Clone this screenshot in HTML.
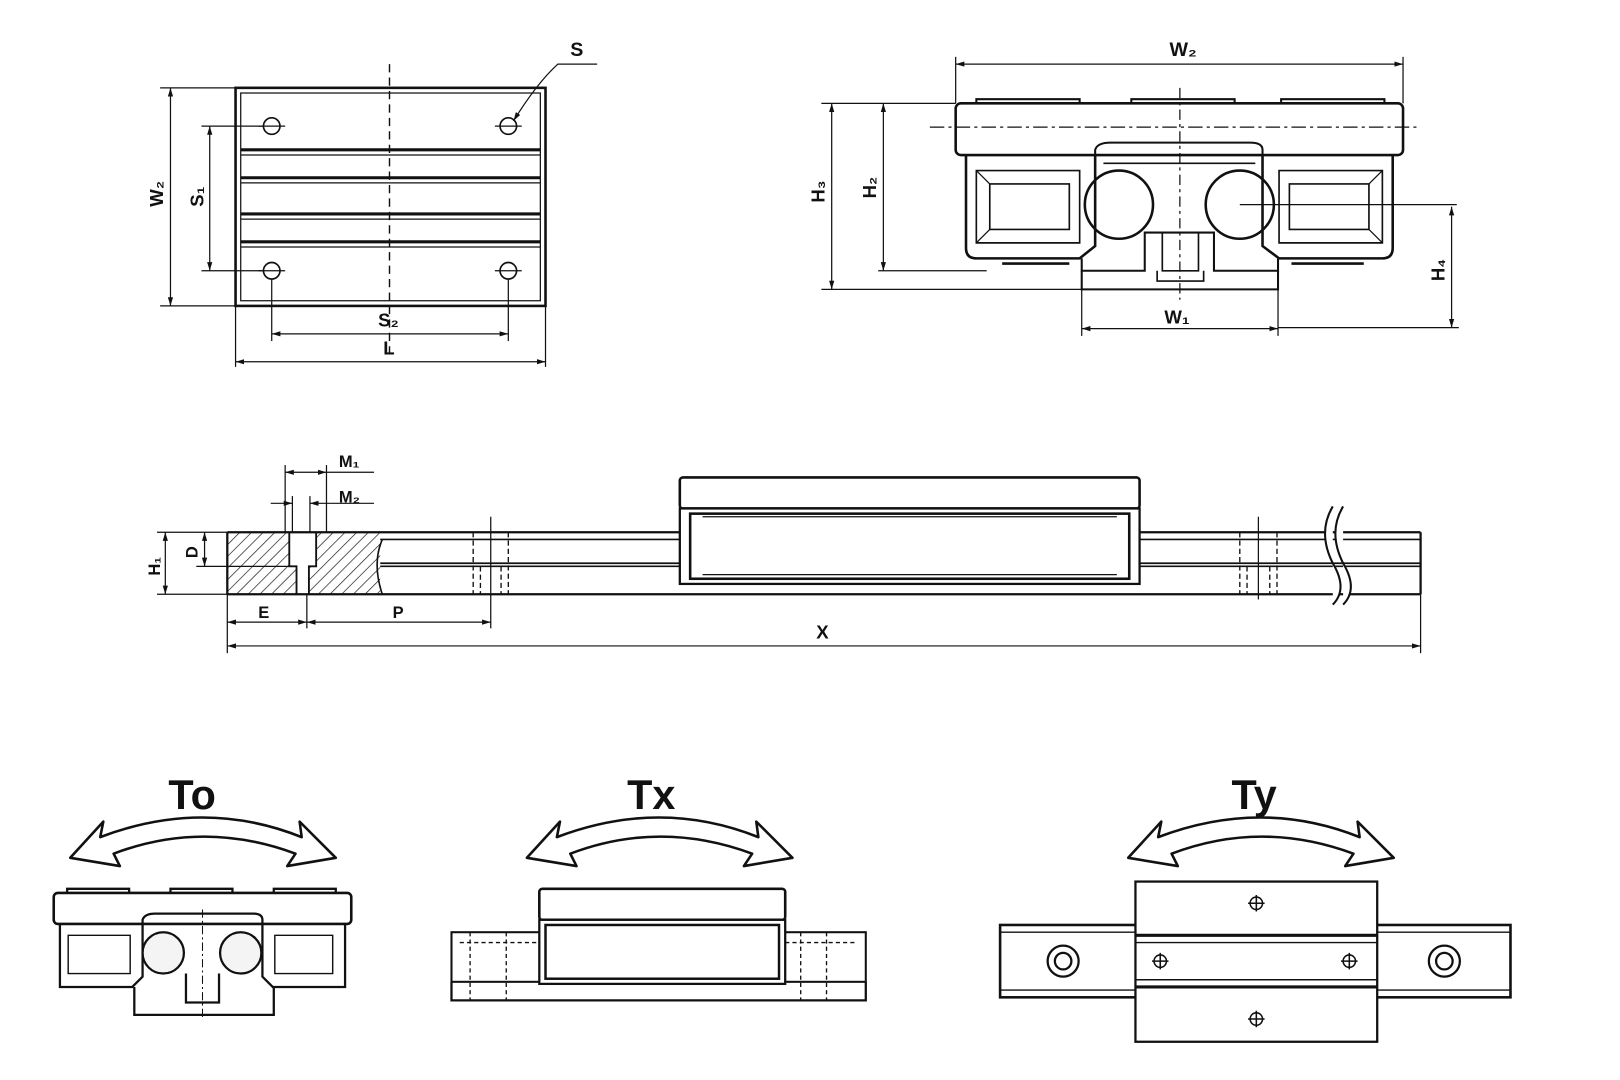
<!DOCTYPE html>
<html><head><meta charset="utf-8"><style>
html,body{margin:0;padding:0;background:#fff}
svg{display:block}
text{font-family:"Liberation Sans",sans-serif;font-weight:bold;fill:#111}
</style></head><body>
<svg width="1620" height="1080" viewBox="0 0 1568 1045" preserveAspectRatio="none" xmlns="http://www.w3.org/2000/svg">
<defs>
<marker id="a" viewBox="0 0 10 10" refX="10" refY="5" markerWidth="7" markerHeight="7" orient="auto-start-reverse"><path d="M0,2 L10,5 L0,8z" fill="#111"/></marker>
<pattern id="h" width="8" height="8" patternUnits="userSpaceOnUse" patternTransform="rotate(45)"><line x1="0" y1="0" x2="0" y2="8" stroke="#222" stroke-width="1.4"/></pattern>
</defs>
<rect width="1568" height="1045" fill="#fff"/>
<g fill="none" stroke="#111" stroke-width="2">
<rect x="228" y="85" width="300" height="211" stroke-width="2.5"/>
<rect x="233" y="90" width="290" height="201" stroke-width="1.2"/>
<g stroke-width="3"><line x1="233" y1="145" x2="523" y2="145"/><line x1="233" y1="172" x2="523" y2="172"/><line x1="233" y1="207" x2="523" y2="207"/><line x1="233" y1="234" x2="523" y2="234"/></g>
<g stroke-width="1.2"><line x1="233" y1="150" x2="523" y2="150"/><line x1="233" y1="177" x2="523" y2="177"/><line x1="233" y1="212" x2="523" y2="212"/><line x1="233" y1="239" x2="523" y2="239"/></g>
<line x1="377" y1="62" x2="377" y2="345" stroke-dasharray="8,5" stroke-width="1.4"/>
<g stroke-width="1.6"><circle cx="263" cy="122" r="8"/><circle cx="492" cy="122" r="8"/><circle cx="263" cy="262" r="8"/><circle cx="492" cy="262" r="8"/></g>
<g stroke-width="1.2"><line x1="250" y1="122" x2="276" y2="122"/><line x1="479" y1="122" x2="505" y2="122"/><line x1="250" y1="262" x2="276" y2="262"/><line x1="479" y1="262" x2="505" y2="262"/>
<line x1="155" y1="85" x2="228" y2="85"/><line x1="155" y1="296" x2="228" y2="296"/>
<line x1="195" y1="122" x2="255" y2="122"/><line x1="195" y1="262" x2="255" y2="262"/>
<line x1="263" y1="270" x2="263" y2="330"/><line x1="492" y1="270" x2="492" y2="330"/>
<line x1="228" y1="296" x2="228" y2="355"/><line x1="528" y1="296" x2="528" y2="355"/>
<line x1="165" y1="85" x2="165" y2="296" marker-start="url(#a)" marker-end="url(#a)"/>
<line x1="203" y1="122" x2="203" y2="262" marker-start="url(#a)" marker-end="url(#a)"/>
<line x1="263" y1="323" x2="492" y2="323" marker-start="url(#a)" marker-end="url(#a)"/>
<line x1="228" y1="350" x2="528" y2="350" marker-start="url(#a)" marker-end="url(#a)"/>
<path d="M578,62 L540,62 Q520,80 497,117" marker-end="url(#a)"/></g>

<path d="M945,100 L945,96 L1045,96 L1045,100 M1095,100 L1095,96 L1195,96 L1195,100 M1240,100 L1240,96 L1340,96 L1340,100"/>
<rect x="925" y="100" width="433" height="50" rx="5" stroke-width="2.5"/>
<path d="M935,150 L935,240 Q935,250 945,250 L1045,250 L1060,238 L1060,150" stroke-width="2.5"/>
<path d="M1348,150 L1348,240 Q1348,250 1338,250 L1238,250 L1222,238 L1222,150" stroke-width="2.5"/>
<path d="M945,165 L1045,165 L1045,235 L945,235z M958,178 L1035,178 L1035,222 L958,222z" stroke-width="1.6"/>
<path d="M1338,165 L1238,165 L1238,235 L1338,235z M1325,178 L1248,178 L1248,222 L1325,222z" stroke-width="1.6"/>
<path d="M945,165 L958,178 M945,235 L958,222 M1338,165 L1325,178 M1338,235 L1325,222" stroke-width="1.2"/>
<path d="M1060,150 L1060,145 Q1062,138 1075,138 L1210,138 Q1222,138 1222,145 L1222,150" stroke-width="2"/>
<path d="M1068,158 L1215,158" stroke-width="1.5"/>
<circle cx="1083" cy="198" r="33" stroke-width="2.5"/>
<circle cx="1200" cy="198" r="33" stroke-width="2.5"/>
<path d="M1047,250 L1047,262 L1108,262 L1108,225 L1175,225 L1175,262 L1237,262 L1237,250" stroke-width="2"/>
<path d="M1047,262 L1047,280 L1237,280 L1237,262" stroke-width="2"/>
<path d="M1125,225 L1125,262 L1160,262 L1160,225 M1120,262 L1120,272 L1165,272 L1165,262" stroke-width="1.6"/>
<path d="M970,255 L1035,255 M1250,255 L1320,255" stroke-width="2.5"/>
<g stroke-width="1.2">
<line x1="900" y1="123" x2="1375" y2="123" stroke-dasharray="14,4,3,4"/>
<line x1="1142" y1="85" x2="1142" y2="290" stroke-dasharray="10,4,3,4"/>
<line x1="1200" y1="198" x2="1410" y2="198"/>
<line x1="925" y1="55" x2="925" y2="100"/><line x1="1358" y1="55" x2="1358" y2="100"/>
<line x1="925" y1="62" x2="1358" y2="62" marker-start="url(#a)" marker-end="url(#a)"/>
<line x1="795" y1="100" x2="925" y2="100"/><line x1="795" y1="280" x2="1047" y2="280"/>
<line x1="850" y1="262" x2="955" y2="262"/>
<line x1="805" y1="100" x2="805" y2="280" marker-start="url(#a)" marker-end="url(#a)"/>
<line x1="855" y1="100" x2="855" y2="262" marker-start="url(#a)" marker-end="url(#a)"/>
<line x1="1237" y1="280" x2="1237" y2="325"/><line x1="1047" y1="280" x2="1047" y2="325"/>
<line x1="1047" y1="318" x2="1237" y2="318" marker-start="url(#a)" marker-end="url(#a)"/>
<line x1="1237" y1="317" x2="1412" y2="317"/>
<line x1="1405" y1="200" x2="1405" y2="317" marker-start="url(#a)" marker-end="url(#a)"/></g>

<rect x="220" y="515" width="148" height="60" fill="url(#h)" stroke="none"/>
<rect x="280" y="515" width="26" height="33" fill="#fff" stroke="none"/>
<rect x="287" y="548" width="12" height="27" fill="#fff" stroke="none"/>
<path d="M220,515 L1375,515 M220,575 L1375,575 M220,515 L220,575 M1375,515 L1375,575" stroke-width="2.2"/>
<path d="M368,522 L658,522 M1103,522 L1375,522 M368,545 L658,545 M1103,545 L1375,545 M368,548 L658,548 M1103,548 L1375,548" stroke-width="1.6"/>
<path d="M370,522 Q360,545 370,575" stroke-width="1.6"/>
<path d="M280,515 L280,548 L287,548 L287,575 M306,515 L306,548 L299,548 L299,575" stroke-width="1.8"/>
<path d="M1290,490 Q1275,515 1290,545 Q1305,570 1290,585 M1300,490 Q1285,515 1300,545 Q1315,570 1300,585" fill="#fff" stroke-width="2"/>
<g stroke-dasharray="5,3" stroke-width="1.3">
<line x1="458" y1="515" x2="458" y2="575"/><line x1="492" y1="515" x2="492" y2="575"/><line x1="465" y1="548" x2="465" y2="575"/><line x1="485" y1="548" x2="485" y2="575"/>
<line x1="1200" y1="515" x2="1200" y2="575"/><line x1="1236" y1="515" x2="1236" y2="575"/><line x1="1207" y1="548" x2="1207" y2="575"/><line x1="1229" y1="548" x2="1229" y2="575"/>
<line x1="703" y1="462" x2="703" y2="492"/><line x1="713" y1="462" x2="713" y2="492"/><line x1="873" y1="462" x2="873" y2="492"/><line x1="883" y1="462" x2="883" y2="492"/><line x1="1045" y1="462" x2="1045" y2="492"/><line x1="1055" y1="462" x2="1055" y2="492"/></g>
<line x1="475" y1="500" x2="475" y2="608" stroke-width="1.2"/>
<line x1="1218" y1="500" x2="1218" y2="580" stroke-width="1.2"/>
<rect x="658" y="462" width="445" height="30" rx="3" fill="#fff" stroke-width="2.5"/>
<rect x="658" y="492" width="445" height="73" fill="#fff" stroke-width="2.2"/>
<rect x="668" y="497" width="425" height="63" stroke-width="2.5"/>
<line x1="680" y1="500" x2="1081" y2="500" stroke-width="1.2"/>
<line x1="680" y1="556" x2="1081" y2="556" stroke-width="1.2"/>
<g stroke-width="1.2">
<line x1="276" y1="450" x2="276" y2="515"/><line x1="316" y1="450" x2="316" y2="515"/>
<line x1="276" y1="457" x2="316" y2="457" marker-start="url(#a)" marker-end="url(#a)"/>
<line x1="316" y1="457" x2="362" y2="457"/>
<line x1="283" y1="480" x2="283" y2="515"/><line x1="300" y1="480" x2="300" y2="515"/>
<line x1="262" y1="487" x2="283" y2="487" marker-end="url(#a)"/><line x1="320" y1="487" x2="300" y2="487" marker-end="url(#a)"/>
<line x1="320" y1="487" x2="362" y2="487"/>
<line x1="152" y1="515" x2="220" y2="515"/><line x1="152" y1="575" x2="220" y2="575"/><line x1="190" y1="548" x2="280" y2="548"/>
<line x1="160" y1="515" x2="160" y2="575" marker-start="url(#a)" marker-end="url(#a)"/>
<line x1="198" y1="515" x2="198" y2="548" marker-start="url(#a)" marker-end="url(#a)"/>
<line x1="220" y1="575" x2="220" y2="632"/><line x1="297" y1="575" x2="297" y2="608"/><line x1="1375" y1="575" x2="1375" y2="632"/>
<line x1="220" y1="602" x2="297" y2="602" marker-start="url(#a)" marker-end="url(#a)"/>
<line x1="297" y1="602" x2="475" y2="602" marker-start="url(#a)" marker-end="url(#a)"/>
<line x1="220" y1="625" x2="1375" y2="625" marker-start="url(#a)" marker-end="url(#a)"/></g>

<g stroke-width="2.5" fill="#fff" stroke-linejoin="round">
<path d="M68,830 L100,795 L97,810 Q197,772 292,810 L290,795 L325,830 L278,838 L286,826 Q197,793 110,826 L116,838z"/>
<path d="M510,830 L542,795 L539,810 Q639,772 734,810 L732,795 L767,830 L720,838 L728,826 Q639,793 552,826 L558,838z"/>
<path d="M1092,830 L1124,795 L1121,810 Q1221,772 1316,810 L1314,795 L1349,830 L1302,838 L1310,826 Q1221,793 1134,826 L1140,838z"/>
</g>
</g>
<g font-size="19"><text x="552" y="54">S</text><text x="1132" y="54">W₂</text></g>
<g font-size="18">
<text x="366" y="316">S₂</text><text x="371" y="343">L</text>
<text transform="translate(158,200) rotate(-90)">W₂</text>
<text transform="translate(197,200) rotate(-90)">S₁</text>
<text transform="translate(798,196) rotate(-90)">H₃</text>
<text transform="translate(848,192) rotate(-90)">H₂</text>
<text transform="translate(1398,272) rotate(-90)">H₄</text>
<text x="1127" y="313">W₁</text>
<text x="328" y="452" font-size="16">M₁</text><text x="328" y="486" font-size="16">M₂</text>
<text transform="translate(155,557) rotate(-90)" font-size="16">H₁</text>
<text transform="translate(191,540) rotate(-90)" font-size="16">D</text>
<text x="250" y="598" font-size="16">E</text><text x="380" y="598" font-size="16">P</text><text x="790" y="618" font-size="18">X</text>
</g>
<g font-size="40"><text x="163" y="783">To</text><text x="607" y="783">Tx</text><text x="1192" y="783">Ty</text></g>

<g fill="none" stroke="#111" stroke-width="2.2">
<path d="M65,864 L65,860 L125,860 L125,864 M165,864 L165,860 L225,860 L225,864 M265,864 L265,860 L325,860 L325,864"/>
<rect x="52" y="864" width="288" height="30" rx="4" stroke-width="2.5"/>
<path d="M58,894 L58,955 L128,955 L138,945 L138,894 M334,894 L334,955 L264,955 L254,945 L254,894"/>
<path d="M66,905 L126,905 L126,942 L66,942z M322,905 L266,905 L266,942 L322,942z" stroke-width="1.4"/>
<path d="M138,894 L138,890 Q140,884 150,884 L245,884 Q254,884 254,890 L254,894"/>
<circle cx="158" cy="922" r="20" fill="#f4f4f4"/><circle cx="233" cy="922" r="20" fill="#f4f4f4"/>
<path d="M130,955 L130,982 L265,982 L265,955 M180,942 L180,970 L212,970 L212,942" />
<line x1="196" y1="880" x2="196" y2="985" stroke-dasharray="8,3,2,3" stroke-width="1"/>
<rect x="437" y="902" width="401" height="48" stroke-width="2"/>
<path d="M437,950 L437,968 L838,968 L838,950" />
<path d="M445,912 L520,912 M760,912 L830,912" stroke-dasharray="4,3" stroke-width="1.4"/>
<g stroke-dasharray="4,3" stroke-width="1.3"><line x1="455" y1="902" x2="455" y2="968"/><line x1="490" y1="902" x2="490" y2="968"/><line x1="775" y1="902" x2="775" y2="968"/><line x1="800" y1="902" x2="800" y2="968"/></g>
<rect x="522" y="860" width="238" height="30" rx="3" fill="#fff" stroke-width="2.5"/>
<rect x="522" y="890" width="238" height="62" fill="#fff" stroke-width="2.2"/>
<rect x="528" y="895" width="226" height="52" stroke-width="2.4"/>
<rect x="968" y="895" width="494" height="70" stroke-width="2.5"/>
<line x1="968" y1="902" x2="1462" y2="902" stroke-width="1.4"/><line x1="968" y1="958" x2="1462" y2="958" stroke-width="1.4"/>
<rect x="1099" y="853" width="234" height="155" fill="#fff" stroke-width="2.2"/>
<path d="M1099,905 L1333,905 M1099,955 L1333,955" stroke-width="3"/>
<path d="M1099,912 L1333,912 M1099,948 L1333,948" stroke-width="1.4"/>
<circle cx="1029" cy="930" r="15"/><circle cx="1029" cy="930" r="8"/>
<circle cx="1398" cy="930" r="15"/><circle cx="1398" cy="930" r="8"/>
<g stroke-width="1.5"><circle cx="1216" cy="874" r="6"/><circle cx="1216" cy="986" r="6"/><circle cx="1123" cy="930" r="6"/><circle cx="1306" cy="930" r="6"/>
<path d="M1208,874h16M1216,866v16M1208,986h16M1216,978v16M1115,930h16M1123,922v16M1298,930h16M1306,922v16"/></g>
</g>
</svg>
</body></html>
